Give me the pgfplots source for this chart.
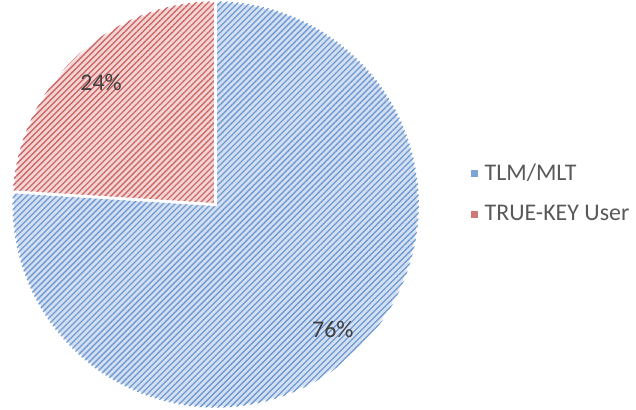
\documentclass[border=0pt]{standalone}
\usepackage{pgfplots}
\pgfplotsset{compat=1.18}
\usepackage{pgfplotstable}
\usetikzlibrary{patterns.meta,calc}
\usepackage{fontspec}
\setmainfont{Carlito}

\definecolor{tlmline}{HTML}{7099D2}
\definecolor{tlmfill}{HTML}{D3E0F2}
\definecolor{trueline}{HTML}{CC6866}
\definecolor{truefill}{HTML}{F3D5D5}
\definecolor{lbl}{HTML}{404040}
\definecolor{legtext}{HTML}{595959}

% share of each group, in percent
\pgfplotstableread{
group share
TLM/MLT 76
TRUE-KEY 24
}\piedata

\begin{document}
\pgfplotstablegetelem{0}{share}\of\piedata \let\shareA\pgfplotsretval
\pgfplotstablegetelem{1}{share}\of\piedata \let\shareB\pgfplotsretval
\pgfmathsetmacro\angA{90-3.6*\shareA}
\pgfmathsetmacro\midA{90-1.8*\shareA}
\pgfmathsetmacro\midB{90+1.8*\shareB}
\begin{tikzpicture}
\begin{axis}[scale only axis, width=477pt, height=312pt, enlargelimits=false,
  xmin=0, xmax=636, ymin=0, ymax=416,
  hide axis, clip=false,
  legend style={at={(axis cs:468,218)}, anchor=west, draw=none, fill=none,
    font=\fontsize{18}{20}\selectfont, text=legtext, row sep=13pt,
    legend cell align=left, /tikz/every odd column/.append style={column sep=3pt}},
  legend image code/.code={\fill[#1, draw=none] (0pt,-2.7pt) rectangle (5.4pt,2.7pt);}]
% TLM/MLT slice, clockwise from the top
\fill[tlmfill, draw=white, line width=2pt,
  postaction={pattern={Lines[angle=45, distance=3.2pt, line width=1pt]}, pattern color=tlmline}]
  (axis cs:216,207) -- ++(90:153pt) arc[start angle=90, end angle=\angA, radius=153pt] -- cycle;
% TRUE-KEY slice
\fill[truefill, draw=white, line width=2pt,
  postaction={pattern={Lines[angle=45, distance=3.2pt, line width=1pt]}, pattern color=trueline}]
  (axis cs:216,207) -- ++(90:153pt) arc[start angle=90, end angle=\angA+360, radius=153pt] -- cycle;
\draw[white, line width=2pt] (axis cs:216,207) -- ++(90:153pt);
\draw[white, line width=2pt] (axis cs:216,207) -- ++(\angA:153pt);
\node[text=lbl, font=\fontsize{18}{20}\selectfont] at ($(axis cs:216,207)+(\midB:126pt)$) {\shareB\%};
\node[text=lbl, font=\fontsize{18}{20}\selectfont] at ($(axis cs:216,207)+(\midA:129pt)$) {\shareA\%};
\addlegendimage{fill=tlmline!90!white}
\addlegendentry{TLM/MLT}
\addlegendimage{fill=trueline!90!white}
\addlegendentry{TRUE-KEY User}
\end{axis}
\end{tikzpicture}
\end{document}
